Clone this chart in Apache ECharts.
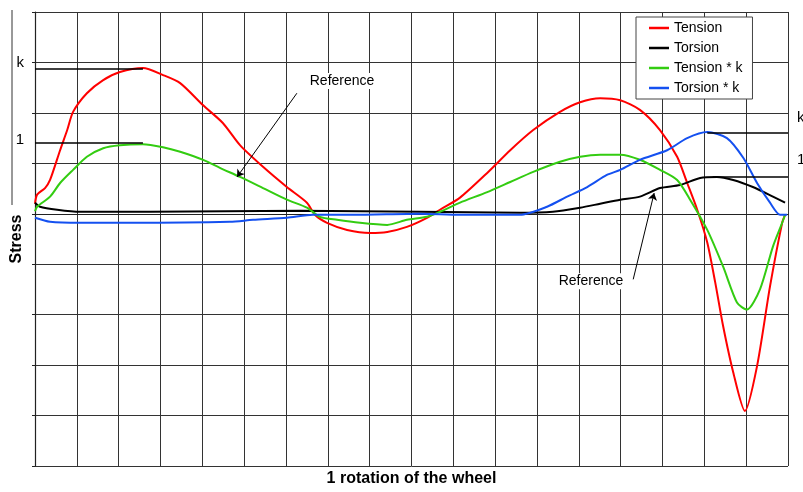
<!DOCTYPE html>
<html>
<head>
<meta charset="utf-8">
<script src="https://cdn.jsdelivr.net/npm/echarts@6/dist/echarts.min.js"></script>
<style>html,body{margin:0;padding:0;background:#fff;}#c{width:803px;height:492px;}</style>
</head>
<body>
<div id="c"></div>
<script>
// x: fraction of one wheel rotation (0..18 grid cells), y: stress (grid cells, 0 = reference)
const tension = [[0,0.2],[0.05,0.38],[0.24,0.51],[0.36,0.67],[0.6,1.26],[0.77,1.66],[0.91,2.02],[1.24,2.39],[1.63,2.65],[2.03,2.81],[2.58,2.89],[3.06,2.75],[3.47,2.59],[4.02,2.15],[4.49,1.8],[4.9,1.36],[5.45,0.93],[6.02,0.53],[6.5,0.22],[6.69,-0.02],[6.98,-0.18],[7.46,-0.32],[8.01,-0.38],[8.42,-0.36],[8.89,-0.26],[9.37,-0.08],[9.68,0.08],[10.16,0.32],[10.81,0.81],[11.36,1.26],[11.91,1.66],[12.55,2.02],[13.03,2.21],[13.51,2.29],[13.99,2.25],[14.46,2.06],[14.94,1.66],[15.35,1.13],[15.59,0.61],[15.83,0.08],[16.07,-0.57],[16.26,-1.36],[16.45,-2.23],[16.69,-3.14],[16.97,-3.91],[17.26,-3.02],[17.57,-1.44],[17.86,-0.18],[17.93,-0.02]];
const torsion = [[0,0.22],[0.12,0.14],[0.53,0.08],[1.08,0.04],[2.75,0.04],[6.34,0.06],[9.2,0.04],[11.59,0.02],[12.38,0.04],[13.03,0.12],[13.51,0.2],[13.99,0.28],[14.46,0.34],[14.94,0.51],[15.42,0.57],[15.9,0.71],[16.3,0.73],[16.69,0.67],[17.16,0.53],[17.64,0.34],[17.93,0.22]];
const tensionK = [[0,0.05],[0.05,0.14],[0.36,0.34],[0.6,0.61],[0.91,0.87],[1.24,1.13],[1.63,1.3],[2.03,1.36],[2.58,1.38],[3.06,1.32],[3.47,1.23],[4.02,1.07],[4.42,0.91],[4.9,0.73],[5.45,0.51],[6.02,0.28],[6.5,0.12],[6.81,-0.06],[7.22,-0.12],[7.77,-0.18],[8.42,-0.22],[8.89,-0.12],[9.37,-0.06],[9.68,0.04],[10.16,0.22],[10.81,0.43],[11.36,0.63],[11.91,0.83],[12.55,1.03],[13.03,1.13],[13.51,1.17],[13.99,1.17],[14.46,1.07],[14.94,0.87],[15.35,0.67],[15.66,0.28],[16.07,-0.32],[16.45,-1.05],[16.78,-1.76],[17.02,-1.9],[17.33,-1.5],[17.64,-0.65],[17.86,-0.18],[17.93,-0.02]];
const torsionK = [[0,-0.08],[0.36,-0.16],[1.08,-0.18],[2.27,-0.18],[4.66,-0.16],[5.21,-0.12],[6.02,-0.08],[6.65,-0.02],[7.6,-0.02],[9.2,0],[10.16,-0.02],[11.59,-0.02],[12.24,0.14],[12.72,0.34],[13.2,0.53],[13.67,0.77],[13.99,0.87],[14.46,1.07],[15.11,1.26],[15.59,1.5],[16.07,1.62],[16.54,1.5],[16.93,1.11],[17.26,0.61],[17.57,0.22],[17.81,-0.02],[17.98,-0.02]];
const seriesNames = ['Tension','Torsion','Tension * k','Torsion * k'];
const colors = ['#ff0000','#000000','#33cc11','#1450f0'];
// level markers: [label, y, xStart, xEnd, side]
const levels = [['k',2.87,0,2.58,'left'],['1',1.4,0,2.58,'left'],['k',1.6,16.07,18,'right'],['1',0.73,16.2,18,'right']];
// annotations: label position and arrow [from, to]
const refLabels = [[7.34,2.63],[13.29,-1.34]];
const refArrows = [[[6.26,2.39],[4.83,0.73]],[[14.3,-1.3],[14.8,0.41]]];

const chart = echarts.init(document.getElementById('c'));
const font = 'Liberation Sans, Arial, sans-serif';

const levelLines = levels.map(l => ([
  {
    coord: [l[2], l[1]], symbol: 'none',
    label: {
      show: true, formatter: l[0], position: l[4] === 'left' ? 'start' : 'end',
      distance: l[4] === 'left' ? 11 : 9,
      offset: l[4] === 'left' ? [0, l[0] === 'k' ? -6 : -3] : [0, l[0] === 'k' ? -15 : -17],
      color: '#000', fontSize: 15, fontFamily: font
    },
    lineStyle: {color: '#000', width: 1.5, type: 'solid'}
  },
  {coord: [l[3], l[1]], symbol: 'none'}
]));
const arrowLines = refArrows.map(a => ([
  {coord: a[0], symbol: 'none', label: {show: false}, lineStyle: {color: '#000', width: 1, type: 'solid'}},
  {coord: a[1], symbol: 'arrow', symbolSize: 7}
]));

const mk = (i, data) => ({
  name: seriesNames[i], type: 'line', data: data, symbol: 'none', showSymbol: false, smooth: 0.25,
  lineStyle: {color: colors[i], width: 2}, itemStyle: {color: colors[i]},
  animation: false, z: 3
});

const series = [mk(0, tension), mk(1, torsion), mk(2, tensionK), mk(3, torsionK)];
series.push({
  name: 'annot', type: 'line', data: [], clip: false, animation: false, z: 4,
  markLine: {silent: true, animation: false, symbol: ['none','none'], data: levelLines.concat(arrowLines)},
  markPoint: {
    silent: true, animation: false, symbol: 'rect', symbolSize: 1,
    itemStyle: {color: 'rgba(0,0,0,0)'},
    label: {show: true, position: 'inside', formatter: 'Reference', color: '#000', fontSize: 14,
      fontFamily: font, backgroundColor: '#fff', padding: [1, 2]},
    data: refLabels.map(p => ({coord: p}))
  }
});

chart.setOption({
  backgroundColor: '#fff',
  animation: false,
  grid: {left: 35, right: 15, top: 12, bottom: 24},
  legend: {
    data: seriesNames, orient: 'vertical', left: 636, top: 17, icon: 'rect',
    padding: [4, 10, 4, 13], itemGap: 6, itemWidth: 20, itemHeight: 2.5,
    backgroundColor: '#fff', borderColor: '#444', borderWidth: 1,
    textStyle: {fontSize: 14, fontFamily: font, color: '#000', lineHeight: 14}
  },
  xAxis: {
    type: 'value', min: 0, max: 18, interval: 1,
    name: '1 rotation of the wheel', nameLocation: 'middle', nameGap: 5,
    nameTextStyle: {fontSize: 16, fontWeight: 'bold', fontFamily: font, color: '#000', verticalAlign: 'top'},
    axisLine: {show: true, lineStyle: {color: '#222', width: 1.2}},
    axisTick: {show: false}, axisLabel: {show: false},
    splitLine: {show: true, lineStyle: {color: '#333', width: 1}}
  },
  yAxis: {
    type: 'value', min: -5, max: 4, interval: 1,
    name: 'Stress', nameLocation: 'middle', nameRotate: 90, nameGap: 10,
    nameTextStyle: {fontSize: 16, fontWeight: 'bold', fontFamily: font, color: '#000'},
    axisLine: {show: true, onZero: false, lineStyle: {color: '#222', width: 1.2}},
    axisTick: {show: true, length: 3, lineStyle: {color: '#222'}},
    axisLabel: {show: false},
    splitLine: {show: true, lineStyle: {color: '#333', width: 1}}
  },
  graphic: [{type: 'line', shape: {x1: 12, y1: 10, x2: 12, y2: 205}, style: {stroke: '#333', lineWidth: 1}, silent: true}],
  series: series
});
</script>
</body>
</html>
